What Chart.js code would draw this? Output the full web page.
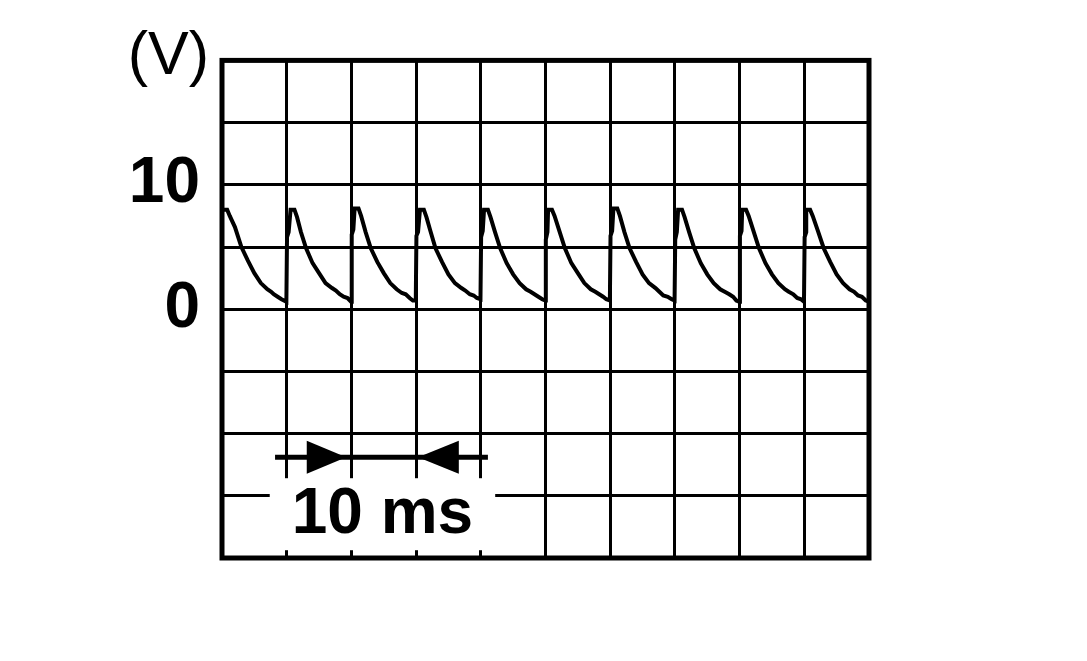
<!DOCTYPE html>
<html>
<head>
<meta charset="utf-8">
<script src="https://cdn.jsdelivr.net/npm/chart.js@4.4.1/dist/chart.umd.min.js"></script>
<style>
html,body{margin:0;padding:0;background:#fff;}
#wrap{width:1087px;height:661px;position:relative;}
</style>
</head>
<body>
<div id="wrap"><canvas id="c"></canvas></div>
<script>
// ---- data (time in ms, voltage in V) ----
const timeMs = [
  0.0, 0.8, 1.2, 2.0, 3.0, 4.0, 5.0, 6.0, 7.0, 7.6, 8.0, 8.6, 9.2, 9.95,
  10.05, 10.3, 10.6, 11.2, 11.6, 12.2, 13.0, 14.0, 15.0, 16.0, 17.0, 17.6, 18.2, 18.8, 19.4, 19.95,
  20.05, 20.3, 20.5, 21.1, 21.5, 22.2, 23.0, 24.0, 25.0, 26.0, 27.0, 27.8, 28.4, 29.0, 29.5, 29.95,
  30.05, 30.3, 30.6, 31.2, 31.6, 32.2, 33.0, 34.0, 35.0, 36.0, 37.0, 37.6, 38.3, 38.9, 39.4, 39.95,
  40.05, 40.3, 40.5, 41.1, 41.5, 42.2, 43.0, 44.0, 45.0, 46.0, 47.0, 47.7, 48.3, 48.9, 49.5, 49.95,
  50.05, 50.3, 50.4, 51.0, 51.4, 52.2, 53.0, 54.0, 55.0, 56.0, 57.0, 57.7, 58.3, 58.9, 59.4, 59.95,
  60.05, 60.3, 60.5, 61.1, 61.5, 62.2, 63.0, 64.0, 65.0, 66.0, 67.0, 67.6, 68.2, 68.9, 69.5, 69.95,
  70.05, 70.3, 70.5, 71.1, 71.5, 72.2, 73.0, 74.0, 75.0, 76.0, 77.0, 77.7, 78.4, 79.0, 79.5, 79.95,
  80.05, 80.3, 80.4, 81.0, 81.4, 82.2, 83.0, 84.0, 85.0, 86.0, 87.0, 87.6, 88.3, 88.9, 89.5, 89.95,
  90.05, 90.3, 90.3, 90.9, 91.3, 92.1, 93.0, 94.0, 95.0, 96.0, 97.0, 97.7, 98.3, 98.9, 99.5, 100.0
];
const volts = [
  8.0, 8.0, 7.5, 6.6, 5.0, 3.9, 2.9, 2.1, 1.6, 1.4, 1.2, 1.0, 0.8, 0.6,
  5.8, 6.2, 8.0, 8.0, 7.4, 6.2, 4.9, 3.7, 2.9, 2.1, 1.7, 1.5, 1.2, 1.0, 0.9, 0.6,
  6.0, 6.4, 8.1, 8.1, 7.5, 6.2, 4.9, 3.8, 2.9, 2.1, 1.6, 1.3, 1.2, 0.9, 0.7, 0.7,
  5.9, 6.2, 8.0, 8.0, 7.4, 6.3, 4.9, 3.8, 2.8, 2.1, 1.7, 1.5, 1.2, 1.1, 0.9, 0.8,
  5.8, 6.3, 8.0, 8.0, 7.4, 6.2, 4.9, 3.7, 2.8, 2.1, 1.6, 1.4, 1.2, 1.0, 0.8, 0.7,
  5.6, 6.2, 8.0, 8.0, 7.5, 6.2, 4.9, 3.7, 2.9, 2.1, 1.6, 1.4, 1.2, 1.0, 0.8, 0.7,
  5.9, 6.3, 8.1, 8.1, 7.5, 6.2, 4.9, 3.8, 2.8, 2.1, 1.7, 1.4, 1.1, 1.0, 0.8, 0.7,
  5.6, 6.2, 8.0, 8.0, 7.4, 6.2, 4.9, 3.7, 2.8, 2.1, 1.6, 1.4, 1.2, 1.0, 0.7, 0.6,
  5.9, 6.3, 8.0, 8.0, 7.5, 6.2, 4.9, 3.7, 2.8, 2.1, 1.6, 1.4, 1.2, 0.9, 0.8, 0.6,
  5.8, 6.2, 8.0, 8.0, 7.5, 6.3, 4.9, 3.8, 2.8, 2.1, 1.6, 1.4, 1.1, 1.0, 0.7, 0.6
];
const yTickLabels = { 10: '10', 0: '0' };
const unitLabel = '(V)';
const spanLabel = '10 ms';

// annotation (data coordinates)
const arrowY = -11.9;
const arrowLineFrom = 8.2, arrowLineTo = 41.1;
const arrowTipLeft = 19.2, arrowTipRight = 30.3;
const arrowBaseLeft = 13.1, arrowBaseRight = 36.6;
const spanLabelX = 24.8, spanLabelY = -16.4;

const points = timeMs.map((t, i) => ({ x: t, y: volts[i] }));

const overlay = {
  id: 'overlay',
  afterDraw(chart) {
    const { ctx, chartArea: a, scales: { x, y } } = chart;
    ctx.save();
    // frame
    ctx.strokeStyle = '#000';
    ctx.lineWidth = 5;
    ctx.strokeRect(a.left, a.top, a.right - a.left, a.bottom - a.top);
    // unit label
    ctx.fillStyle = '#000';
    ctx.font = '61px "Liberation Sans", Arial, sans-serif';
    ctx.textAlign = 'right';
    ctx.textBaseline = 'middle';
    ctx.fillText(unitLabel, 209, 57);
    // span label with white background
    ctx.font = 'bold 64px "Liberation Sans", Arial, sans-serif';
    ctx.textAlign = 'center';
    const cx = x.getPixelForValue(spanLabelX), cy = y.getPixelForValue(spanLabelY);
    const w = ctx.measureText(spanLabel).width;
    ctx.fillStyle = '#fff';
    ctx.fillRect(cx - w / 2 - 22, cy - 35, w + 44, 72);
    ctx.fillStyle = '#000';
    ctx.fillText(spanLabel, cx, cy + 2);
    // arrow line
    const ay = y.getPixelForValue(arrowY);
    ctx.lineWidth = 5;
    ctx.beginPath();
    ctx.moveTo(x.getPixelForValue(arrowLineFrom), ay);
    ctx.lineTo(x.getPixelForValue(arrowLineTo), ay);
    ctx.stroke();
    const hh = 16.5;
    ctx.beginPath();
    ctx.moveTo(x.getPixelForValue(arrowBaseLeft), ay - hh);
    ctx.lineTo(x.getPixelForValue(arrowTipLeft), ay);
    ctx.lineTo(x.getPixelForValue(arrowBaseLeft), ay + hh);
    ctx.closePath();
    ctx.fill();
    ctx.beginPath();
    ctx.moveTo(x.getPixelForValue(arrowBaseRight), ay - hh);
    ctx.lineTo(x.getPixelForValue(arrowTipRight), ay);
    ctx.lineTo(x.getPixelForValue(arrowBaseRight), ay + hh);
    ctx.closePath();
    ctx.fill();
    ctx.restore();
  }
};

new Chart(document.getElementById('c'), {
  type: 'line',
  data: {
    datasets: [{
      data: points,
      borderColor: '#000',
      borderWidth: 4,
      pointRadius: 0,
      tension: 0,
      fill: false
    }]
  },
  options: {
    responsive: true,
    maintainAspectRatio: false,
    animation: false,
    devicePixelRatio: 1,
    layout: { padding: { left: 0, top: 58, right: 218, bottom: 103 } },
    plugins: { legend: { display: false }, tooltip: { enabled: false } },
    scales: {
      x: {
        type: 'linear', min: 0, max: 100,
        ticks: { stepSize: 10, display: false, autoSkip: false },
        grid: { color: '#000', lineWidth: 3, drawTicks: false },
        border: { display: false },
        afterFit: s => { s.height = 0; }
      },
      y: {
        min: -20, max: 20,
        ticks: {
          stepSize: 5,
          autoSkip: false,
          color: '#000',
          padding: 22,
          font: { family: '"Liberation Sans", Arial, sans-serif', size: 64, weight: 'bold' },
          callback: v => (yTickLabels[v] !== undefined ? yTickLabels[v] : '')
        },
        grid: { color: '#000', lineWidth: 3, drawTicks: false },
        border: { display: false },
        afterFit: s => { s.width = 222; }
      }
    }
  },
  plugins: [overlay]
});
</script>
</body>
</html>
